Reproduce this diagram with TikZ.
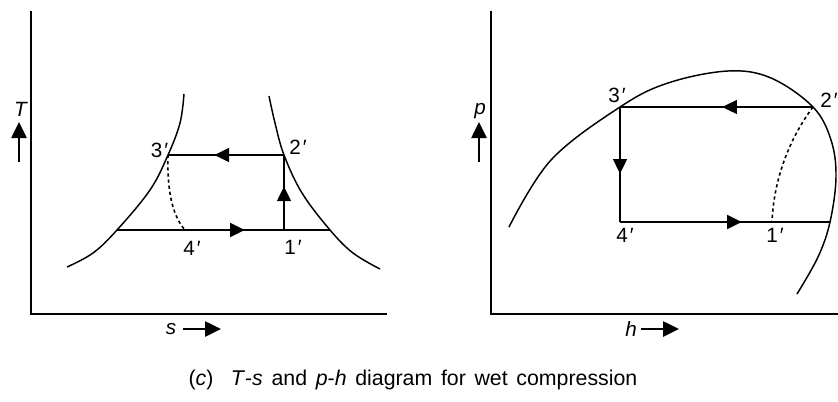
\documentclass[tikz,border=0pt]{standalone}
\usepackage{fontspec}
\setmainfont{Liberation Sans}
\usepackage{tikz}
\usetikzlibrary{decorations.markings,arrows.meta}
\usetikzlibrary{positioning, calc}

\newcommand{\pr}{\kern1.5pt′}

\begin{document}
\begin{tikzpicture}[x=0.75pt, y=-0.75pt, line width=1.1pt,
    lbl/.style={font=\fontsize{15.5}{18}\selectfont, inner sep=0pt},
    tip/.style={-{Triangle[length=12pt,width=11.5pt]}},
    midarrow/.style={postaction={decorate},
      decoration={markings, mark=at position #1 with {\arrow{Triangle[length=11pt,width=10.5pt]}}}},
    dotline/.style={line width=1.2pt, dash pattern=on 2.4pt off 2.2pt}]
    \useasboundingbox (0,0) rectangle (838,401);

    % T-s diagram: axes
    \coordinate (tsO) at (31,314);
    \draw (31,11) -- (tsO) -- (387,314);
    \node[lbl] (lT) at (21,109) {\textit{T}};
    \coordinate (tA) at (19,162); \coordinate (tB) at (19,122);
    \draw[tip] (tA) -- (tB);
    \node[lbl] (ls) at (171,329) {\textit{s}};
    \coordinate (sA) at (183,329); \coordinate (sB) at (221,329);
    \draw[tip] (sA) -- (sB);

    % Saturation curves
    \draw plot[smooth, tension=0.6] coordinates {(184,94) (180,123) (168,155) (150,190) (117,230) (93,253) (67,267)};
    \draw plot[smooth, tension=0.6] coordinates {(269,96) (275,123) (284,155) (302,193) (330,230) (353,253) (380,269)};

    % Cycle
    \coordinate (ts1) at (284,230);
    \coordinate (ts2) at (284,155);
    \coordinate (ts3) at (168,155);
    \coordinate (ts4) at (185,230);
    \coordinate (tsL) at (117,230);
    \coordinate (tsR) at (330,230);
    \draw[midarrow=0.6] (ts2) -- (ts3);
    \draw[midarrow=0.6] (tsL) -- (tsR);
    \draw[midarrow=0.58] (ts1) -- (ts2);
    \draw[dotline] (ts3) .. controls (167,190) and (172,215) .. (ts4);

    \node[lbl, anchor=east] (n3) at (169,150) {3\pr};
    \node[lbl] (n2) at (298,147) {2\pr};
    \node[lbl] (n4) at (192,248) {4\pr};
    \node[lbl] (n1) at (293,247) {1\pr};

    % p-h diagram: axes
    \coordinate (phO) at (491,314);
    \draw (491,11) -- (phO) -- (838,314);
    \node[lbl] (lp) at (480,111) {\textit{p}};
    \coordinate (pA) at (479,162); \coordinate (pB) at (479,122);
    \draw[tip] (pA) -- (pB);
    \node[lbl] (lh) at (631,329) {\textit{h}};
    \coordinate (hA) at (641,329); \coordinate (hB) at (679,329);
    \draw[tip] (hA) -- (hB);

    % Saturation dome
    \draw plot[smooth, tension=0.6] coordinates {(509,227) (551,160) (620,107) (668,83) (728,71) (771,78) (813,107) (831,140) (836,177) (830,222) (818,257) (797,294)};

    % Cycle
    \coordinate (ph1) at (772,222);
    \coordinate (ph2) at (813,107);
    \coordinate (ph3) at (620,107);
    \coordinate (ph4) at (620,222);
    \coordinate (phR) at (830,222);
    \draw[midarrow=0.47] (ph2) -- (ph3);
    \draw[midarrow=0.58] (ph3) -- (ph4);
    \draw[midarrow=0.58] (ph4) -- (phR);
    \draw[dotline] (ph2) .. controls (792,135) and (774,175) .. (ph1);

    \node[lbl] (m3) at (617,95) {3\pr};
    \node[lbl] (m2) at (829,100) {2\pr};
    \node[lbl] (m4) at (625,235) {4\pr};
    \node[lbl] (m1) at (775,235) {1\pr};

    % Caption
    \node[lbl, font=\fontsize{16}{19}\selectfont] (cap) at (413,380)
      {\spaceskip=6.5pt plus 1pt (\textit{c})\ \ \textit{T}-\textit{s} and \textit{p}-\textit{h} diagram for wet compression};
\end{tikzpicture}
\end{document}
